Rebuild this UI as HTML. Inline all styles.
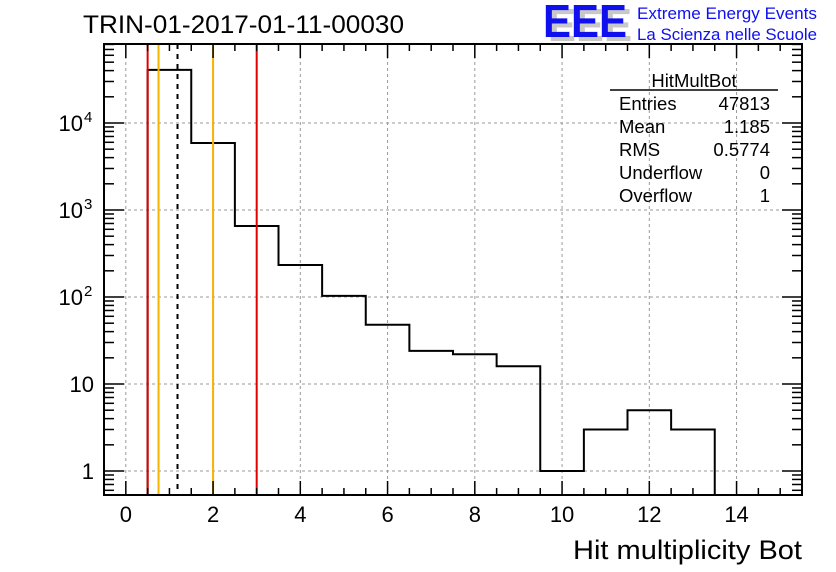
<!DOCTYPE html>
<html><head><meta charset="utf-8"><style>
body{margin:0;background:#fff;}
svg{display:block;font-family:"Liberation Sans",sans-serif;}
</style></head><body>
<svg id="c" width="836" height="572" xmlns="http://www.w3.org/2000/svg">
<rect width="836" height="572" fill="#fff"/>
<text x="83" y="33" font-size="25" textLength="321" lengthAdjust="spacingAndGlyphs">TRIN-01-2017-01-11-00030</text>
<g>
<text x="548" y="41" font-size="46" font-weight="bold" fill="#c8c8c8" textLength="84" lengthAdjust="spacingAndGlyphs">EEE</text>
<text x="543" y="37" font-size="46" font-weight="bold" fill="#1010ee" textLength="84" lengthAdjust="spacingAndGlyphs">EEE</text>
<text x="637" y="19" font-size="16.5" fill="#1010ee" textLength="180" lengthAdjust="spacingAndGlyphs">Extreme Energy Events</text>
<text x="637" y="40" font-size="16.5" fill="#1010ee" textLength="180" lengthAdjust="spacingAndGlyphs">La Scienza nelle Scuole</text>
</g>
<g id="grid"></g><g id="marks"></g><g id="axes"></g>
<g font-size="18.5">
<text x="694" y="87" text-anchor="middle">HitMultBot</text>
<line x1="610" y1="90" x2="778" y2="90" stroke="#000" stroke-width="1.5"/>
<text x="619" y="110">Entries</text><text x="770" y="110" text-anchor="end">47813</text>
<text x="619" y="133">Mean</text><text x="770" y="133" text-anchor="end">1.185</text>
<text x="619" y="156">RMS</text><text x="770" y="156" text-anchor="end">0.5774</text>
<text x="619" y="179">Underflow</text><text x="770" y="179" text-anchor="end">0</text>
<text x="619" y="202">Overflow</text><text x="770" y="202" text-anchor="end">1</text>
</g>
<text x="573" y="559" font-size="27" textLength="229" lengthAdjust="spacingAndGlyphs">Hit multiplicity Bot</text>
</svg>
<script>
const binLow=[0.5,1.5,2.5,3.5,4.5,5.5,6.5,7.5,8.5,9.5,10.5,11.5,12.5];
const counts=[40800,5890,655,233,103,48,24,22,16,1,3,5,3];
const xTicks=[0,2,4,6,8,10,12,14];
const yTicks=[1,10,100,1000,10000];
const yTickBase=["1","10","10","10","10"];
const yTickExp=["","","2","3","4"];
const redLines=[0.5,3.0];
const orangeLines=[0.75,2.0];
const meanLine=[1.185];
const L=104,R=802,T=44,B=495,X0=-0.5,X1=15.5,Y0=Math.log10(0.53),Y1=Math.log10(80900);
const sx=v=>L+(v-X0)/(X1-X0)*(R-L);
const sy=v=>B-(Math.log10(v)-Y0)/(Y1-Y0)*(B-T);
const NS="http://www.w3.org/2000/svg";
function mk(t,a,p){const e=document.createElementNS(NS,t);for(const k in a)e.setAttribute(k,a[k]);p.appendChild(e);return e;}
const grid=document.getElementById('grid'),marks=document.getElementById('marks'),axes=document.getElementById('axes');
xTicks.forEach(v=>{const l=mk('line',{x1:sx(v),x2:sx(v),y1:T,y2:B,stroke:'#999','stroke-dasharray':'3,3'},grid);
});
yTicks.forEach(v=>{const l=mk('line',{x1:L,x2:R,y1:sy(v),y2:sy(v),stroke:'#999','stroke-dasharray':'3,3'},grid);
});
let d='M'+sx(binLow[0])+','+B;
binLow.forEach((b,i)=>{d+=' L'+sx(b)+','+sy(counts[i])+' L'+sx(b+1)+','+sy(counts[i]);});
d+=' L'+sx(binLow[binLow.length-1]+1)+','+B;
const h=mk('path',{d:d,fill:'none',stroke:'#000','stroke-width':2},marks);

function vline(v,c,dash,n){const l=mk('line',{x1:sx(v),x2:sx(v),y1:T,y2:B,stroke:c,'stroke-width':2},marks);if(dash)l.setAttribute('stroke-dasharray','5,5');
}
redLines.forEach(v=>vline(v,'#e00000',false,'red-cut-line'));
orangeLines.forEach(v=>vline(v,'#f5b400',false,'orange-cut-line'));
meanLine.forEach(v=>vline(v,'#000',true,'mean-line'));
const f=mk('rect',{x:L,y:T,width:R-L,height:B-T,fill:'none',stroke:'#000','stroke-width':2},axes);

for(let v=-0.5;v<=15.5;v+=0.5){const maj=Math.abs(v%2)<1e-9;const len=maj?14:7;
mk('line',{x1:sx(v),x2:sx(v),y1:B,y2:B-len,stroke:'#000','stroke-width':1.5},axes);
mk('line',{x1:sx(v),x2:sx(v),y1:T,y2:T+len,stroke:'#000','stroke-width':1.5},axes);}
xTicks.forEach(v=>{const t=mk('text',{x:sx(v),y:522,'font-size':22,'text-anchor':'middle'},axes);t.textContent=v;
});
for(let e=-1;e<5;e++)for(let m=1;m<10;m++){const v=m*Math.pow(10,e);if(v<0.53||v>80900)continue;const len=m==1?20:10;
mk('line',{x1:L,x2:L+len,y1:sy(v),y2:sy(v),stroke:'#000','stroke-width':1.5},axes);
mk('line',{x1:R,x2:R-len,y1:sy(v),y2:sy(v),stroke:'#000','stroke-width':1.5},axes);}
yTicks.forEach((v,i)=>{const hasExp=yTickExp[i]!=="";
const t=mk('text',{x:hasExp?83:94,y:sy(v)+8,'font-size':22,'text-anchor':'end'},axes);t.textContent=yTickBase[i];

if(hasExp){const s=mk('text',{x:84,y:sy(v)-1,'font-size':15},axes);s.textContent=yTickExp[i];
}});
</script>
</body></html>
